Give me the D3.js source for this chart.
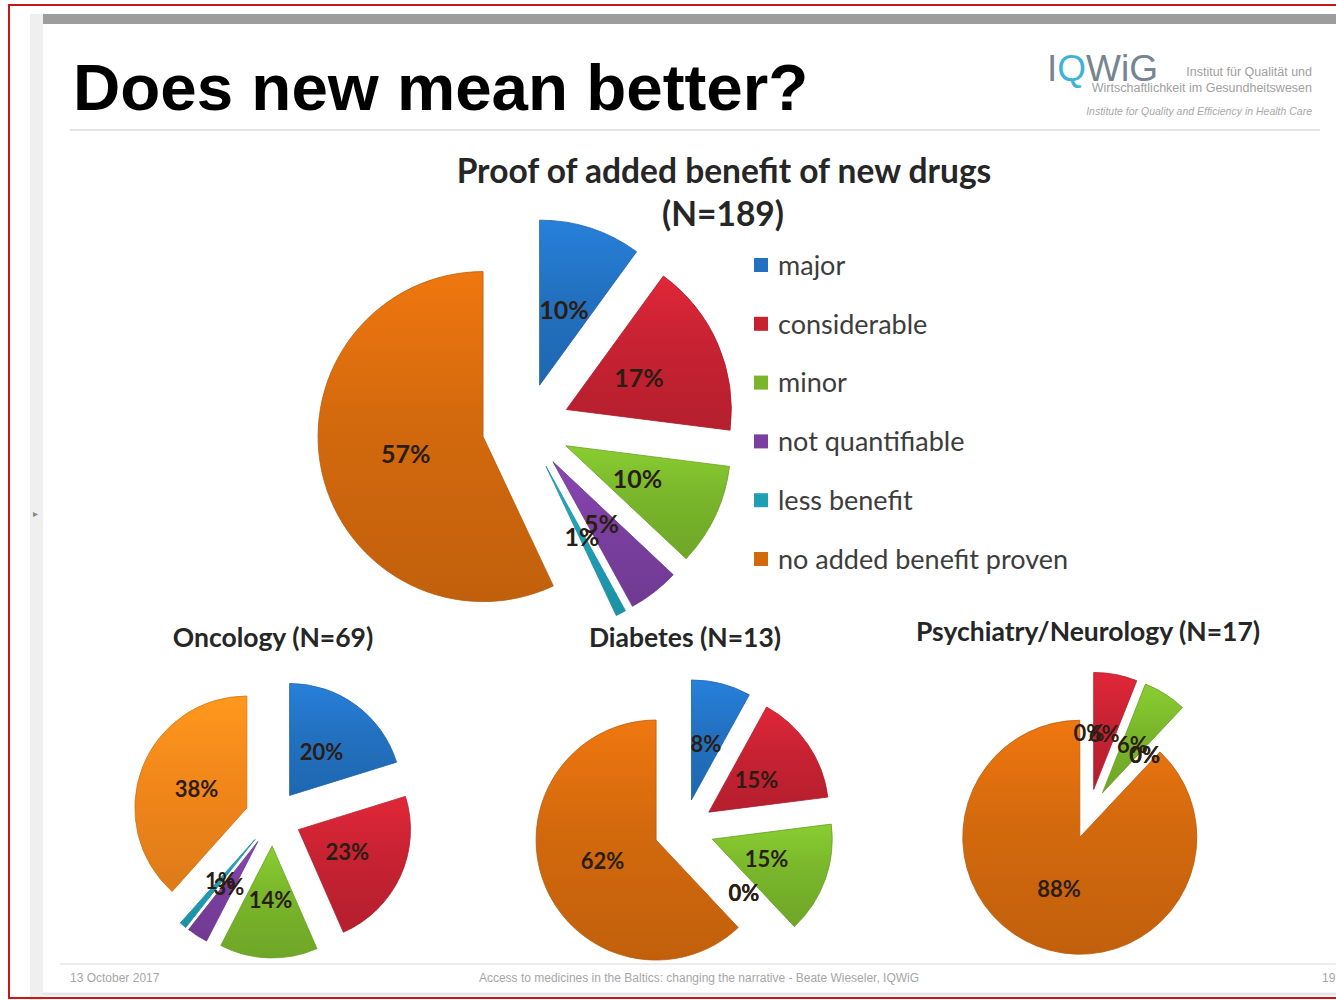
<!DOCTYPE html>
<html>
<head>
<meta charset="utf-8">
<script src="https://cdn.jsdelivr.net/npm/d3@7"></script>
<style>
  body { margin: 0; background: #fff; }
  svg { display: block; }
</style>
</head>
<body>
<div id="slide"></div>
<script>
// Benefit ratings of new drugs, share of assessments per category (%)
const categories = ["major", "considerable", "minor", "not quantifiable", "less benefit", "no added benefit proven"];
const allDrugs = [10, 17, 10, 5, 1, 57];
const oncology = [20, 23, 14, 3, 1, 38];
const diabetes = [8, 15, 15, 0, 0, 62];
const psychNeuro = [0, 6, 6, 0, 0, 88];

const width = 1336;
const height = 1000;

const palette = ["#2271c0", "#c62232", "#79b62b", "#7a3f9f", "#1f9fb4", "#d3690d"];
const labelInk = "#2b1d14";
const fontCal = "Lato, 'Open Sans', sans-serif";

const svg = d3.select("#slide")
    .append("svg")
    .attr("width", width)
    .attr("height", height);

const defs = svg.append("defs");

// soft top-to-bottom shading for every slice colour
function shade(id, base) {
    const g = defs.append("linearGradient")
        .attr("id", id)
        .attr("x1", 0).attr("y1", 0)
        .attr("x2", 0).attr("y2", 1);
    g.append("stop").attr("offset", "0%").attr("stop-color", d3.color(base).brighter(0.35));
    g.append("stop").attr("offset", "45%").attr("stop-color", base);
    g.append("stop").attr("offset", "100%").attr("stop-color", d3.color(base).darker(0.25));
    return "url(#" + id + ")";
}

// SLIDE FRAME
svg.append("rect")
    .attr("x", 0).attr("y", 0)
    .attr("width", width).attr("height", height)
    .attr("fill", "#fff");
svg.append("rect")
    .attr("x", 30).attr("y", 14)
    .attr("width", 13).attr("height", height - 14)
    .attr("fill", "#efefef");
svg.append("rect")
    .attr("x", 43).attr("y", 14)
    .attr("width", width - 43).attr("height", 10)
    .attr("fill", "#9d9d9d");
svg.append("line")
    .attr("x1", 70).attr("x2", 1320)
    .attr("y1", 130).attr("y2", 130)
    .attr("stroke", "#e3e3e3").attr("stroke-width", 2);
svg.append("line")
    .attr("x1", 60).attr("x2", width)
    .attr("y1", 964).attr("y2", 964)
    .attr("stroke", "#ececec").attr("stroke-width", 2);
svg.append("line")
    .attr("x1", 43).attr("x2", width)
    .attr("y1", 994).attr("y2", 994)
    .attr("stroke", "#e6e6e6").attr("stroke-width", 3);
svg.append("text")
    .attr("x", 33).attr("y", 517)
    .attr("font-family", "'Liberation Sans', sans-serif")
    .attr("font-size", 10)
    .attr("fill", "#888")
    .text("▸");

// Heading
svg.append("text")
    .attr("x", 73).attr("y", 110)
    .attr("font-family", "'Liberation Sans', Arial, sans-serif")
    .attr("font-weight", "bold")
    .attr("font-size", 65.5)
    .attr("fill", "#000")
    .text("Does new mean better?");

// Logo block
const logo = svg.append("g").attr("font-family", "'Liberation Sans', sans-serif");
const logoText = logo.append("text")
    .attr("x", 1047).attr("y", 81)
    .attr("font-size", 37)
    .attr("fill", "#76858f");
logoText.append("tspan").text("I");
logoText.append("tspan").attr("fill", "#3fb3d6").text("Q");
logoText.append("tspan").text("WiG");
logo.append("text")
    .attr("x", 1312).attr("y", 76)
    .attr("text-anchor", "end")
    .attr("font-size", 12.5).attr("fill", "#a0a0a0")
    .text("Institut für Qualität und");
logo.append("text")
    .attr("x", 1312).attr("y", 92)
    .attr("text-anchor", "end")
    .attr("font-size", 12.5).attr("fill", "#a0a0a0")
    .text("Wirtschaftlichkeit im Gesundheitswesen");
logo.append("text")
    .attr("x", 1312).attr("y", 115)
    .attr("text-anchor", "end")
    .attr("font-size", 10.5).attr("font-style", "italic").attr("fill", "#a8a8a8")
    .text("Institute for Quality and Efficiency in Health Care");

// Footer
const foot = svg.append("g")
    .attr("font-family", "'Liberation Sans Narrow', 'Liberation Sans', sans-serif")
    .attr("font-size", 12)
    .attr("fill", "#a6a6a6");
foot.append("text").attr("x", 70).attr("y", 982).text("13 October 2017");
foot.append("text").attr("x", 699).attr("y", 982).attr("text-anchor", "middle")
    .text("Access to medicines in the Baltics: changing the narrative - Beate Wieseler, IQWiG");
foot.append("text").attr("x", 1322).attr("y", 982).text("19");

// PIE CHARTS

const pie = d3.pie().sort(null).value(d => d);

function drawPie(opts) {
    const g = svg.append("g")
        .attr("transform", "translate(" + opts.cx + "," + opts.cy + ")");
    const arc = d3.arc().innerRadius(0).outerRadius(opts.r);
    const arcs = pie(opts.values);
    const offset = d => {
        const a = (d.startAngle + d.endAngle) / 2;
        return [Math.sin(a), -Math.cos(a)];
    };
    const fills = opts.colors.map((c, i) => shade(opts.id + "-" + i, c));

    g.selectAll("path.slice")
        .data(arcs.filter(d => d.value > 0))
        .enter()
        .append("path")
        .attr("class", "slice")
        .attr("d", arc)
        .attr("fill", d => fills[d.index])
        .attr("stroke", d => d3.color(opts.colors[d.index]).darker(0.4))
        .attr("stroke-width", 0.8)
        .attr("transform", d => {
            const v = offset(d);
            return "translate(" + v[0] * opts.explode + "," + v[1] * opts.explode + ")";
        });

    g.selectAll("text.pct")
        .data(arcs)
        .enter()
        .append("text")
        .attr("class", "pct")
        .attr("x", d => offset(d)[0] * (opts.explode + opts.r * 0.48))
        .attr("y", d => offset(d)[1] * (opts.explode + opts.r * 0.48))
        .attr("dy", "0.36em")
        .attr("text-anchor", "middle")
        .attr("font-family", fontCal)
        .attr("font-weight", "bold")
        .attr("font-size", opts.fontSize)
        .attr("fill", labelInk)
        .text(d => d.value + "%");
}

const oncoColors = palette.slice(0, 5).concat(["#f2861a"]);

drawPie({ id: "all", values: allDrugs, colors: palette, cx: 526, cy: 427, r: 165, explode: 44, fontSize: 25 });
drawPie({ id: "onc", values: oncology, colors: oncoColors, cx: 273, cy: 818, r: 112, explode: 28, fontSize: 22 });
drawPie({ id: "dia", values: diabetes, colors: palette, cx: 684, cy: 829, r: 120, explode: 30, fontSize: 22 });
drawPie({ id: "psy", values: psychNeuro, colors: palette, cx: 1089, cy: 814, r: 117, explode: 25, fontSize: 22 });

// Chart titles
function title(x, y, size, str) {
    svg.append("text")
        .attr("x", x).attr("y", y)
        .attr("text-anchor", "middle")
        .attr("font-family", fontCal)
        .attr("font-weight", "bold")
        .attr("font-size", size)
        .attr("fill", "#262626")
        .text(str);
}
title(724, 183, 33.5, "Proof of added benefit of new drugs");
title(723, 226, 33.5, "(N=189)");
title(273, 647, 26.5, "Oncology (N=69)");
title(685, 647, 26.5, "Diabetes (N=13)");
title(1088, 641, 26.5, "Psychiatry/Neurology (N=17)");

// Legend
const legend = svg.append("g")
    .selectAll("g")
    .data(categories)
    .enter()
    .append("g")
    .attr("transform", (d, i) => "translate(754," + (265 + i * 58.8) + ")");
legend.append("rect")
    .attr("x", 0).attr("y", -7)
    .attr("width", 14).attr("height", 14)
    .attr("fill", (d, i) => palette[i]);
legend.append("text")
    .attr("x", 24).attr("dy", "0.36em")
    .attr("font-family", fontCal)
    .attr("font-size", 27)
    .attr("fill", "#3d3d3d")
    .text(d => d);

// Red outline around the slide
svg.append("rect")
    .attr("x", 9).attr("y", 5)
    .attr("width", width).attr("height", height - 7)
    .attr("fill", "none")
    .attr("stroke", "#c8161d")
    .attr("stroke-width", 2);
</script>
</body>
</html>
